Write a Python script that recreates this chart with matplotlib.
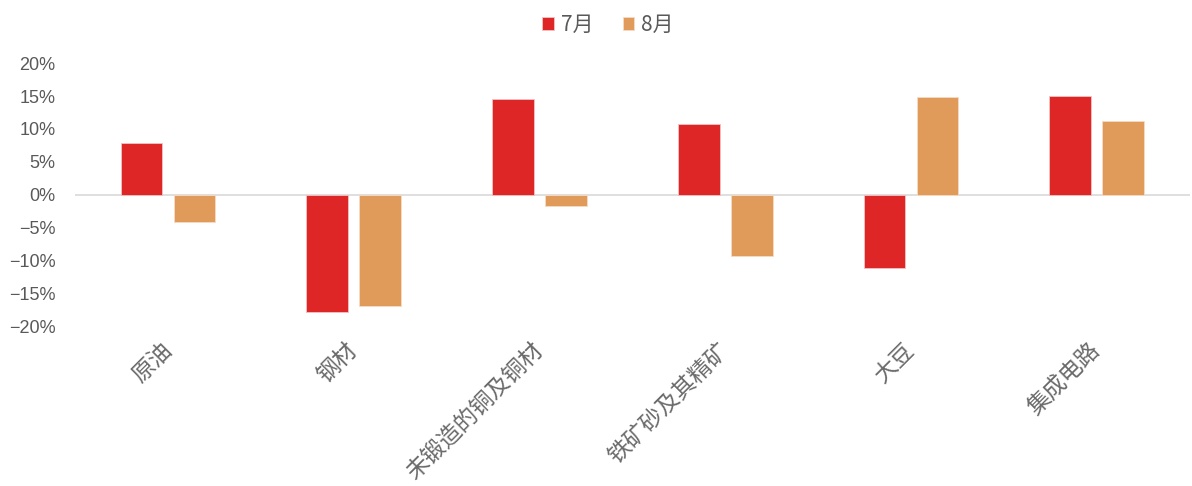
import matplotlib
matplotlib.use("Agg")
import matplotlib.pyplot as plt
import matplotlib.transforms as mtransforms
import numpy as np
from matplotlib.ticker import FuncFormatter

plt.rcParams['font.family'] = ['Noto Sans CJK SC', 'DejaVu Sans']
plt.rcParams['axes.unicode_minus'] = True

categories = ['原油', '钢材', '未锻造的铜及铜材', '铁矿砂及其精矿', '大豆', '集成电路']
series_names = ['7月', '8月']
jul = [7.9, -17.9, 14.5, 10.8, -11.2, 15.0]
aug = [-4.1, -17.0, -1.7, -9.3, 14.8, 11.2]
yticks = [-20, -15, -10, -5, 0, 5, 10, 15, 20]

colors = ['#DF2626', '#E09A5A']

fig = plt.figure(figsize=(11.92, 4.86), dpi=100)
ax = fig.add_axes([0.063, 0.329, 0.935, 0.541])

x = np.arange(len(categories))
w = 0.225
off = 0.1425
ax.bar(x - off, jul, w, color=colors[0], edgecolor='#f3c4c4', linewidth=0.6, label=series_names[0])
ax.bar(x + off, aug, w, color=colors[1], edgecolor='#f6dcc4', linewidth=0.6, label=series_names[1])

ax.set_xlim(-0.5, len(categories) - 0.5)
ax.set_ylim(-20, 20)
ax.set_yticks(yticks)
ax.yaxis.set_major_formatter(FuncFormatter(lambda v, p: f"{int(v)}%".replace('-', '\u2212')))
ax.axhline(0, color='#d9d9d9', linewidth=1.2, zorder=0)

for s in ax.spines.values():
    s.set_visible(False)
ax.tick_params(axis='y', length=0, labelsize=13, colors='#595959', pad=14)
for t in ax.get_yticklabels():
    t.set_fontfamily(['Liberation Sans', 'DejaVu Sans'])
ax.tick_params(axis='x', length=0, pad=9)
ax.set_xticks(x)
ax.set_xticklabels(categories, rotation=45, ha='right', rotation_mode='anchor',
                   fontsize=16.5, color='#6a6a6a')
shift = mtransforms.ScaledTranslation(-8 / 100, 0, fig.dpi_scale_trans)
for t in ax.get_xticklabels():
    t.set_transform(t.get_transform() + shift)

leg = fig.legend(loc='upper center', bbox_to_anchor=(0.51, 1.01), ncol=2, frameon=False,
                 fontsize=15, handlelength=0.55, handleheight=0.55, handletextpad=0.35,
                 columnspacing=1.4)
for t in leg.get_texts():
    t.set_color('#595959')

fig.savefig('out.png', dpi=100)
